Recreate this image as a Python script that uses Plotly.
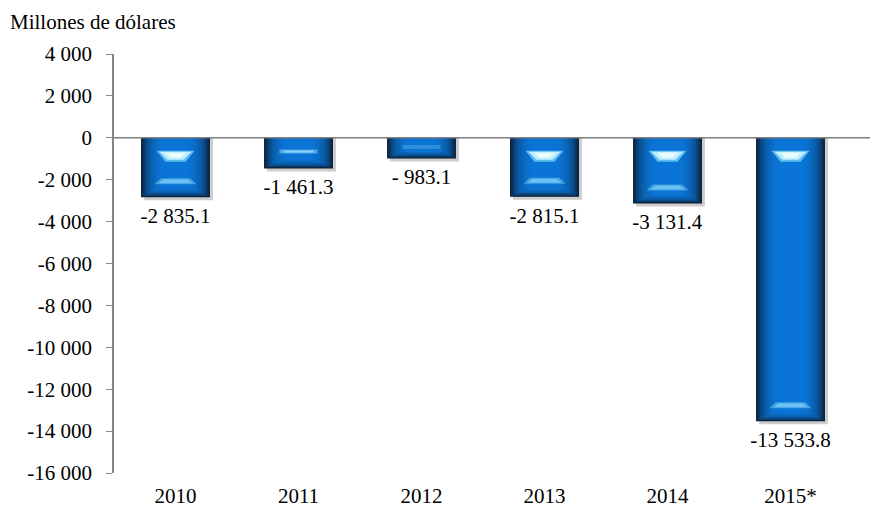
import plotly.graph_objects as go

years = ["2010", "2011", "2012", "2013", "2014", "2015*"]
values = [-2835.1, -1461.3, -983.1, -2815.1, -3131.4, -13533.8]
labels = ["-2 835.1", "-1 461.3", "- 983.1", "-2 815.1", "-3 131.4", "-13 533.8"]
tick_vals = [4000, 2000, 0, -2000, -4000, -6000, -8000, -10000, -12000, -14000, -16000]
tick_text = ["4 000", "2 000", "0", "-2 000", "-4 000", "-6 000", "-8 000",
             "-10 000", "-12 000", "-14 000", "-16 000"]

FONT = "Liberation Serif"
FS = 21

# geometry helpers (plot area: 738 x 419 px)
L, R, T, B = 114, 20, 54, 41
W, H = 872 - L - R, 514 - T - B
YMIN, YMAX = -16000, 4000
PX_X = len(years) / W            # category units per px
PX_Y = (YMAX - YMIN) / H         # data units per px
BAR_W = 0.56
pos = list(range(len(years)))

fig = go.Figure()

# invisible carrier for the value labels (slightly lower than the bar end)
fig.add_trace(go.Bar(
    x=pos, y=[v - 4 * PX_Y for v in values], width=BAR_W,
    marker=dict(color="rgba(0,0,0,0)", line_width=0),
    text=labels, textposition="outside", constraintext="none",
    textfont=dict(family=FONT, size=FS, color="black"),
    cliponaxis=False, hoverinfo="skip"))

# shadow
fig.add_trace(go.Bar(
    x=pos, y=[v - 3 * PX_Y for v in values], width=BAR_W,
    offset=-BAR_W / 2 + 3 * PX_X, marker=dict(color="rgba(90,90,90,0.30)", line_width=0),
    hoverinfo="skip"))

# bevel layers: smooth dark-edge -> bright-centre gradient
c_edge = (10, 26, 46)
c_mid = (10, 117, 214)
steps = 12
for k in range(steps):
    t = k / (steps - 1)
    tt = 1 - (1 - t) ** 2
    col = "rgb(%d,%d,%d)" % tuple(round(a + (b - a) * tt) for a, b in zip(c_edge, c_mid))
    ix = 24 * (t ** 1.4)
    iy = 10 * (t ** 1.2)
    ys = []
    for v in values:
        h_px = -v / PX_Y
        ys.append(v + min(iy, 0.3 * h_px) * PX_Y)
    fig.add_trace(go.Bar(
        x=pos, y=ys, width=BAR_W - 2 * ix * PX_X,
        marker=dict(color=col, line_width=0), hoverinfo="skip"))

# highlights
def poly(xc, pts, color):
    xs = [xc + dx * PX_X for dx, _ in pts] + [xc + pts[0][0] * PX_X]
    ys = [-dy * PX_Y for _, dy in pts] + [-pts[0][1] * PX_Y]
    fig.add_trace(go.Scatter(x=xs, y=ys, mode="lines", fill="toself", fillcolor=color,
                             line=dict(width=0, color=color), hoverinfo="skip"))

for i, v in enumerate(values):
    h = -v / PX_Y
    if h >= 45:
        poly(i, [(-19, 13), (19, 13), (10, 24), (-10, 24)], "#5fbdf0")
        poly(i, [(-16, 14), (16, 14), (8, 22), (-8, 22)], "#bfefff")
        poly(i, [(-10, 15), (10, 15), (5, 20), (-5, 20)], "#e8fcff")
        poly(i, [(-15, h - 19), (15, h - 19), (21, h - 13), (-21, h - 13)], "#3f9fe2")
        poly(i, [(-12, h - 18), (12, h - 18), (17, h - 14), (-17, h - 14)], "#6cc2f2")
    else:
        c = 0.45 * h
        poly(i, [(-19, c - 2), (19, c - 2), (19, c + 2), (-19, c + 2)], "#2f8ed8" if h < 25 else "#4aa8ea")
        if h >= 25:
            poly(i, [(-15, c - 1), (15, c - 1), (15, c + 1), (-15, c + 1)], "#8ad4f8")

# zero line drawn on top, extending past the plot area
fig.add_shape(type="line", xref="paper", yref="y", x0=0, x1=(870 - L) / W, y0=0, y1=0,
              line=dict(color="#7f7f7f", width=1.5), layer="above")

fig.update_layout(
    width=872, height=514,
    margin=dict(l=L, r=R, t=T, b=B, autoexpand=False),
    plot_bgcolor="white", paper_bgcolor="white",
    showlegend=False, barmode="overlay",
    font=dict(family=FONT, size=FS, color="black"),
)
fig.add_annotation(text="Millones de dólares", xref="paper", yref="paper",
                   x=-(L - 8) / W, y=1 + 32 / H, xanchor="left", yanchor="middle",
                   showarrow=False, font=dict(family=FONT, size=FS, color="black"))

fig.update_yaxes(range=[YMIN, YMAX], tickvals=tick_vals, ticktext=tick_text,
                 showgrid=False, zeroline=False,
                 showline=True, linecolor="#868686", linewidth=1.5,
                 ticks="outside", ticklen=6, tickcolor="#868686", automargin=False,
                 tickfont=dict(family=FONT, size=FS), ticklabelstandoff=10)
fig.update_xaxes(range=[-0.5, len(years) - 0.5], tickvals=pos, ticktext=years,
                 showgrid=False, showline=False, zeroline=False, ticks="",
                 ticklabelstandoff=8, automargin=False,
                 tickfont=dict(family=FONT, size=FS))

fig.write_html("out.html", config={"displayModeBar": False},
               post_script="document.body.style.margin='0';")
